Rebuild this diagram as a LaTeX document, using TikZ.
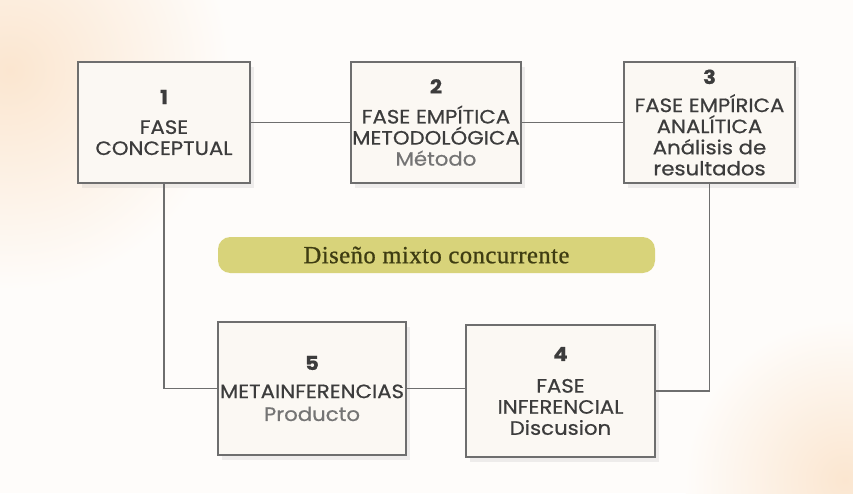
\documentclass[tikz,border=0pt]{standalone}
\usepackage{fontspec}
\setmainfont{Poppins}
\newfontfamily\phasefont{Poppins}[FakeBold=0.6, FakeStretch=1.1]
\newfontfamily\bannerfont{Liberation Serif}[FakeBold=0.8, LetterSpace=2]
\usetikzlibrary{shadows}

\definecolor{bgcream}{HTML}{FEFCFA}
\definecolor{peach}{HTML}{FBE6D0}
\definecolor{boxfill}{HTML}{FBF8F3}
\definecolor{boxline}{HTML}{6E6E6E}
\definecolor{capsgray}{HTML}{3C3C3C}
\definecolor{subgray}{HTML}{747474}
\definecolor{bannerfill}{HTML}{D8D37A}
\definecolor{bannertext}{HTML}{3E3C12}

\begin{document}
\begin{tikzpicture}[
    phase/.style={draw=boxline, line width=0.9pt, fill=boxfill, align=center,
        text=capsgray, font=\phasefont\fontsize{11}{12}\selectfont, inner sep=0pt,
        drop shadow={opacity=0.12, shadow xshift=2pt, shadow yshift=-3pt}},
    banner/.style={fill=bannerfill, rounded corners=7pt, text=bannertext,
        minimum width=8.74cm, minimum height=0.72cm,
        font=\bannerfont\fontsize{14}{16}\selectfont},
    link/.style={draw=boxline, line width=0.9pt}
]

    % Background with soft peach corners
    \fill[bgcream] (0,0) rectangle (17.06,-9.86);
    \begin{scope}
        \clip (0,0) rectangle (17.06,-9.86);
        \shade[inner color=peach, outer color=bgcream] (0.2,-1.4) circle (4.4);
        \shade[inner color=peach, outer color=bgcream] (16.9,-9.6) circle (3.2);
    \end{scope}
    \useasboundingbox (0,0) rectangle (17.06,-9.86);

    % Top row of phases
    \node[phase, minimum width=3.44cm, minimum height=2.42cm] (fase1) at (3.28,-2.45)
        {\textbf{1}\\[5pt] FASE\\CONCEPTUAL};
    \node[phase, minimum width=3.40cm, minimum height=2.42cm] (fase2) at (8.72,-2.45)
        {\textbf{2}\\[5pt] FASE EMPÍTICA\\METODOLÓGICA\\{\color{subgray}Método}};
    \node[phase, minimum width=3.42cm, minimum height=2.42cm] (fase3) at (14.19,-2.45)
        {\textbf{3}\\[4pt] FASE EMPÍRICA\\ANALÍTICA\\Análisis de\\resultados};

    % Bottom row of phases
    \node[phase, minimum width=3.76cm, minimum height=2.66cm] (fase5) at (6.24,-7.77)
        {\textbf{5}\\[4pt] METAINFERENCIAS\\[1pt]{\color{subgray}Producto}};
    \node[phase, minimum width=3.78cm, minimum height=2.64cm] (fase4) at (11.21,-7.82)
        {\textbf{4}\\[6pt] FASE\\INFERENCIAL\\Discusion};

    % Central label
    \node[banner] (diseno) at (8.73,-5.10) {Diseño mixto concurrente};

    % Connectors between the phases
    \draw[link] (fase1.east) -- (fase2.west);
    \draw[link] (fase2.east) -- (fase3.west);
    \draw[link] (fase1.south) |- (fase5.west);
    \draw[link] (fase3.south) |- (fase4.east);
    \draw[link] (fase5.east) -- (fase5.east -| fase4.west);

\end{tikzpicture}
\end{document}
